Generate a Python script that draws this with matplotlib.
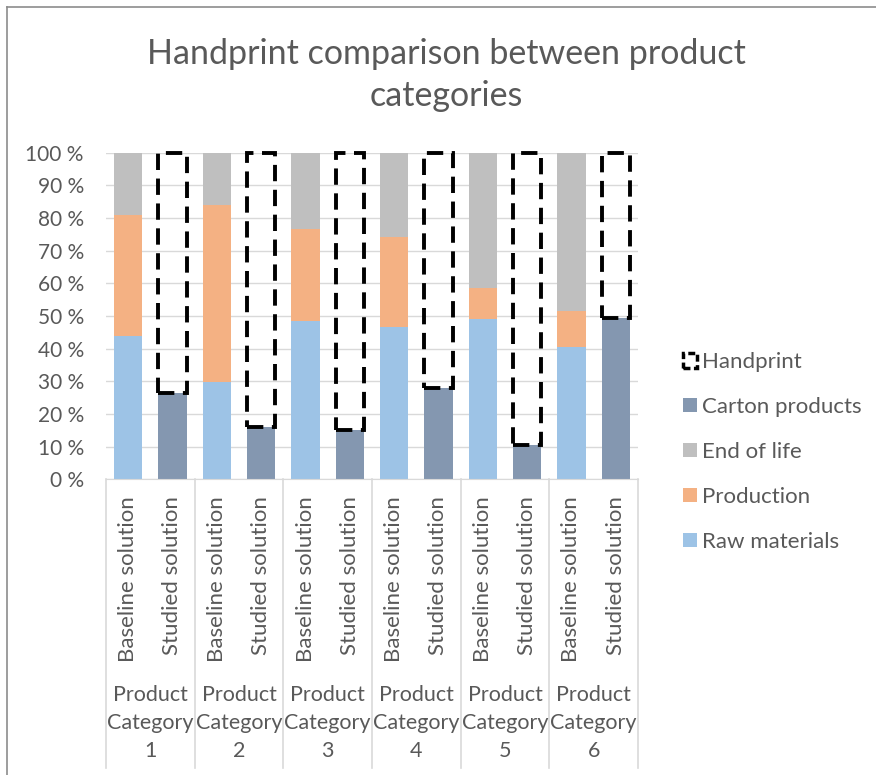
import matplotlib.pyplot as plt
import matplotlib.transforms as mtransforms
from matplotlib.patches import Patch
from matplotlib.lines import Line2D

plt.rcParams['font.family'] = ['Lato', 'DejaVu Sans']

# data (% of baseline footprint)
categories = ['Product\nCategory\n1', 'Product\nCategory\n2', 'Product\nCategory\n3',
              'Product\nCategory\n4', 'Product\nCategory\n5', 'Product\nCategory\n6']
solutions = ['Baseline solution', 'Studied solution']
raw_materials = [44.0, 29.9, 48.4, 46.5, 49.2, 40.4]
production = [37.0, 54.1, 28.3, 27.6, 9.4, 11.0]
end_of_life = [19.0, 16.0, 23.3, 25.9, 41.4, 48.6]
carton_products = [26.3, 15.9, 15.1, 28.0, 10.4, 49.4]
handprint = [73.7, 84.1, 84.9, 72.0, 89.6, 50.6]

c_raw = '#9DC3E6'
c_prod = '#F4B183'
c_eol = '#BFBFBF'
c_carton = '#8497B0'
txt = '#595959'

W, H = 876, 775
fig = plt.figure(figsize=(W / 100, H / 100), dpi=100)

# outer chart border (only top and left visible)
fig.add_artist(Line2D([7 / W, 7 / W], [0, 1 - 7 / H], color='#8C8C8C', lw=1.2))
fig.add_artist(Line2D([7 / W, 1], [1 - 7 / H, 1 - 7 / H], color='#8C8C8C', lw=1.2))

y0, y1 = 479.3, 152.7
ax = fig.add_axes([106 / W, 1 - y0 / H, 532 / W, (y0 - y1) / H])

base_x = [2 * i for i in range(len(categories))]
stud_x = [2 * i + 1 for i in range(len(categories))]
bw = 0.64

ax.bar(base_x, raw_materials, bw, color=c_raw, zorder=2)
prod_bottom = raw_materials
ax.bar(base_x, production, bw, bottom=prod_bottom, color=c_prod, zorder=2)
eol_bottom = [r + p for r, p in zip(raw_materials, production)]
ax.bar(base_x, end_of_life, bw, bottom=eol_bottom, color=c_eol, zorder=2)
ax.bar(stud_x, carton_products, bw, color=c_carton, zorder=2)
ax.bar(stud_x, handprint, bw, bottom=carton_products, fill=False, edgecolor='black',
       linewidth=2.8, linestyle=(0, (4.2, 2.2)), zorder=3, clip_on=False)

ax.set_xlim(-0.5, 2 * len(categories) - 0.5)
ax.set_ylim(0, 100)
ax.set_yticks(range(0, 101, 10))
ax.set_yticklabels([f'{v} %' for v in range(0, 101, 10)], fontsize=15, color=txt)
ax.tick_params(axis='y', length=0, pad=16)
ax.set_xticks([])
ax.yaxis.grid(True, color='#D9D9D9', lw=1, zorder=0)
for s in ['top', 'right', 'left']:
    ax.spines[s].set_visible(False)
ax.spines['bottom'].set_color('#D9D9D9')

# two-level category axis
tr = mtransforms.blended_transform_factory(ax.transData, fig.transFigure)
for i in range(len(categories) + 1):
    xb = 2 * i - 0.5
    ax.add_artist(Line2D([xb, xb], [1 - y0 / H, 1 - 768 / H], transform=tr,
                         color='#D9D9D9', lw=1.2, clip_on=False))
for i, cat in enumerate(categories):
    for j, sol in enumerate(solutions):
        ax.text(2 * i + j, 1 - 496 / H, sol, transform=tr, rotation=90,
                ha='center', va='top', fontsize=16, color=txt)
    ax.text(2 * i + 0.5, 1 - 723 / H, cat, transform=tr, ha='center', va='center',
            fontsize=15.5, color=txt, linespacing=1.5)

fig.text(446 / W, 1 - 75 / H, 'Handprint comparison between product\ncategories',
         ha='center', va='center', fontsize=24.5, color=txt, linespacing=1.38)

handles = [
    Patch(facecolor='none', edgecolor='black', linewidth=2.5, linestyle=(0, (2, 1))),
    Patch(facecolor=c_carton),
    Patch(facecolor=c_eol),
    Patch(facecolor=c_prod),
    Patch(facecolor=c_raw),
]
labels = ['Handprint', 'Carton products', 'End of life', 'Production', 'Raw materials']
leg = fig.legend(handles, labels, loc='center left', bbox_to_anchor=(672 / W, 1 - 452 / H),
                 frameon=False, fontsize=16, labelspacing=1.12, handlelength=0.62,
                 handleheight=0.62, handletextpad=0.25, borderpad=0)
for t in leg.get_texts():
    t.set_color(txt)

fig.savefig('out.png', dpi=100)
